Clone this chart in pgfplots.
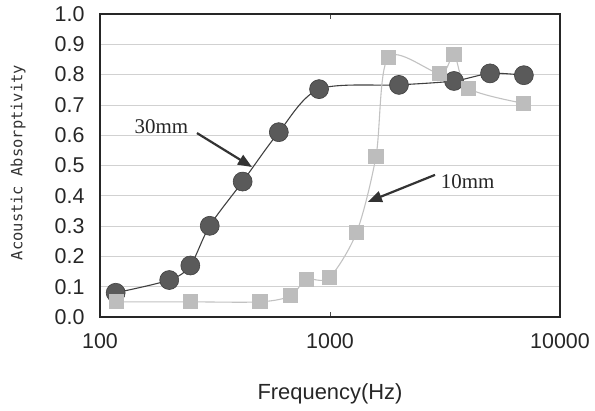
\documentclass[border=0pt]{standalone}
\usepackage{pgfplots}
\pgfplotsset{compat=1.18}
\usepackage{fontspec}
\setmainfont{Liberation Sans}
\newfontfamily\serifj{Liberation Serif}
\newfontfamily\monoj{DejaVu Sans Mono}
\usetikzlibrary{arrows.meta}
\definecolor{darkpt}{HTML}{5A5A5A}
\definecolor{darkln}{HTML}{404040}
\definecolor{lightpt}{HTML}{BDBDBD}
\definecolor{lightln}{HTML}{C2C2C2}
\begin{document}
\begin{tikzpicture}[x=1bp,y=1bp]
\useasboundingbox (0,0) rectangle (595,410);
\begin{axis}[
  at={(100bp,93bp)}, anchor=south west,
  scale only axis, width=460bp, height=303bp,
  xmode=log, log basis x=10,
  xmin=100, xmax=10000, ymin=0, ymax=1,
  xtick={100,1000,10000}, xticklabels={100,1000,10000},
  minor xtick={},
  ytick={0,0.1,0.2,0.3,0.4,0.5,0.6,0.7,0.8,0.9,1.0},
  yticklabels={0.0,0.1,0.2,0.3,0.4,0.5,0.6,0.7,0.8,0.9,1.0},
  ymajorgrids,
  major grid style={draw=black!18, line width=0.7pt},
  axis line style={line width=1.5pt, draw=black!85},
  xtick style={draw=black!70, line width=0.8pt},
  ytick style={draw=none},
  major tick length=5bp,
  tick align=inside,
  ticklabel style={font=\fontsize{21.5}{23}\selectfont, text=black!85},
  xticklabel style={yshift=-13bp},
  yticklabel style={xshift=-12bp},
  xlabel={Frequency(Hz)},
  ylabel={Acoustic Absorptivity},
  xlabel style={at={(axis description cs:0.5,-0.254)}, anchor=center, font=\fontsize{22}{24}\selectfont, text=black!85},
  ylabel style={at={(axis description cs:-0.178,0.51)}, anchor=center, font=\monoj\fontsize{15.5}{17}\selectfont, text=black!80},
  clip=false,
]
\addplot[smooth, tension=0.5, color=darkln, line width=1.1pt,
  mark=*, mark size=9.5bp, mark options={fill=darkpt, draw=darkln, line width=0.6pt}]
  coordinates {
  (117,0.080) (200,0.122) (247,0.170) (300,0.301) (417,0.447) (599,0.610)
  (896,0.752) (1995,0.766) (3460,0.779) (4964,0.804) (6964,0.798)
  };
\addplot[smooth, tension=0.5, color=lightln, line width=1.1pt,
  mark=square*, mark size=7bp, mark options={fill=lightpt, draw=lightpt}]
  coordinates {
  (118,0.050) (247,0.050) (496,0.050) (675,0.070) (787,0.124) (993,0.130)
  (1306,0.280) (1585,0.531) (1791,0.857) (3006,0.804) (3460,0.865)
  (3990,0.755) (6964,0.705)
  };
\draw[-{Triangle[length=14bp,width=11bp]}, line width=2.2bp, draw=black!80, fill=black!80]
  (axis cs:264,0.607) -- (axis cs:458,0.495);
\draw[-{Triangle[length=14bp,width=11bp]}, line width=2.2bp, draw=black!80, fill=black!80]
  (axis cs:2861,0.469) -- (axis cs:1462,0.380);
\node[font=\serifj\fontsize{21}{23}\selectfont, text=black!85] at (axis cs:185,0.627) {30mm};
\node[font=\serifj\fontsize{21}{23}\selectfont, text=black!85] at (axis cs:3964,0.446) {10mm};
\end{axis}
\end{tikzpicture}
\end{document}
